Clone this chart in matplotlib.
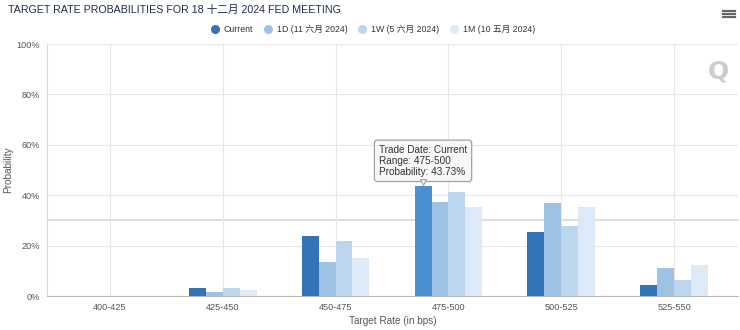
import numpy as np
import matplotlib
matplotlib.use("Agg")
import matplotlib.pyplot as plt
from matplotlib import font_manager
from matplotlib.lines import Line2D
from matplotlib.transforms import ScaledTranslation

# categories and series (probabilities in %)
ranges = ["400-425", "425-450", "450-475", "475-500", "500-525", "525-550"]
current = [0.0, 3.05, 23.7, 43.73, 25.4, 4.2]
one_day = [0.0, 1.46, 13.4, 37.35, 37.1, 11.1]
one_week = [0.0, 3.3, 22.0, 41.3, 27.8, 6.2]
one_month = [0.0, 2.4, 15.0, 35.4, 35.4, 12.5]
series_names = ["Current", "1D (11 六月 2024)", "1W (5 六月 2024)", "1M (10 五月 2024)"]
yticks = [0, 20, 40, 60, 80, 100]

colors = ["#3274b7", "#9dc2e6", "#bcd6ee", "#dceaf7"]
hover_color = "#4a8fd0"

plt.rcParams['font.family'] = ['Liberation Sans', 'Noto Sans CJK SC', 'DejaVu Sans']

names = {f.name for f in font_manager.fontManager.ttflist}
if 'Liberation Sans Narrow' in names:
    title_family = ['Liberation Sans Narrow', 'Noto Sans CJK SC']
    title_size = 9.2
else:
    title_family = ['Liberation Sans', 'Noto Sans CJK SC']
    title_size = 7.7

fig = plt.figure(figsize=(7.4, 3.3), dpi=100)
ax = fig.add_axes([47/740, 34/330, 691/740, 252/330])

x = np.arange(len(ranges))
w = 0.15
all_series = [current, one_day, one_week, one_month]
for i, vals in enumerate(all_series):
    cols = [colors[i]] * len(vals)
    if i == 0:
        cols[3] = hover_color  # hovered bar
    ax.bar(x + (i - 1.5) * w, vals, width=w, color=cols, zorder=3, linewidth=0)

ax.set_xlim(-0.556, 5.565)
ax.set_ylim(0, 100)
ax.set_xticks(x)
ax.set_xticklabels(ranges, fontsize=6.6, color="#555555")
ax.set_yticks(yticks)
ax.set_yticklabels([f"{v}%" for v in yticks], fontsize=6.6, color="#555555")
ax.tick_params(length=0, pad=5)
ax.grid(True, color="#e6e6e6", linewidth=0.8, zorder=0)
ax.axhline(30, color="#dedede", linewidth=1.5, zorder=1)
for s in ["top", "right"]:
    ax.spines[s].set_visible(False)
ax.spines["left"].set_color("#dcdcdc")
ax.spines["bottom"].set_color("#bbbbbb")
ax.set_ylabel("Probability", fontsize=7.2, color="#555555")
ax.yaxis.set_label_coords((13 - 47) / 691, 0.5)
ax.set_xlabel("Target Rate (in bps)", fontsize=7.2, color="#555555", labelpad=3)

# tooltip on the hovered bar
tip_x = x[3] - 1.5 * w
tip_y = current[3]
ax.annotate(f"Trade Date: Current\nRange: {ranges[3]}\nProbability: {current[3]:.2f}%",
            xy=(tip_x, tip_y), xytext=(0, 25), textcoords="offset pixels",
            ha="center", va="center", multialignment="left",
            fontsize=7.2, color="#333333", linespacing=1.15, zorder=10,
            bbox=dict(boxstyle="round,pad=0.45,rounding_size=0.3",
                      fc="#f7f7f7", ec="#a0a0a0", lw=0.9))
notch, = ax.plot([tip_x], [tip_y], marker="v", markersize=5, color="#f7f7f7",
                 markeredgecolor="#a0a0a0", markeredgewidth=0.8,
                 zorder=11, clip_on=False, linestyle="none")
notch.set_transform(ax.transData + ScaledTranslation(0, 4/100, fig.dpi_scale_trans))

# title
fig.text(8/740, 1 - 10/330, "TARGET RATE PROBABILITIES FOR 18 十二月 2024 FED MEETING",
         fontsize=title_size, family=title_family, color="#1c2b4c", va="center", ha="left")

# legend
handles = [Line2D([0], [0], marker="o", linestyle="none", markersize=5.5,
                  markerfacecolor=c, markeredgecolor=c) for c in colors]
fig.legend(handles, series_names, loc="center", bbox_to_anchor=(373/740, 1 - 29/330),
           ncol=4, frameon=False, fontsize=6.3, handletextpad=0.5, columnspacing=1.2,
           labelcolor="#333333", handlelength=1.0)

# hamburger menu icon
for yy in [11, 14, 17]:
    fig.add_artist(Line2D([723/740, 735/740], [1 - yy/330, 1 - yy/330],
                          color="#666666", linewidth=1.6))

# watermark
fig.text(718/740, 1 - 72/330, "Q", fontsize=18, fontweight="bold", color="#cccccc",
         ha="center", va="center", family="DejaVu Sans")

fig.savefig("out.png", dpi=100, facecolor="white")
